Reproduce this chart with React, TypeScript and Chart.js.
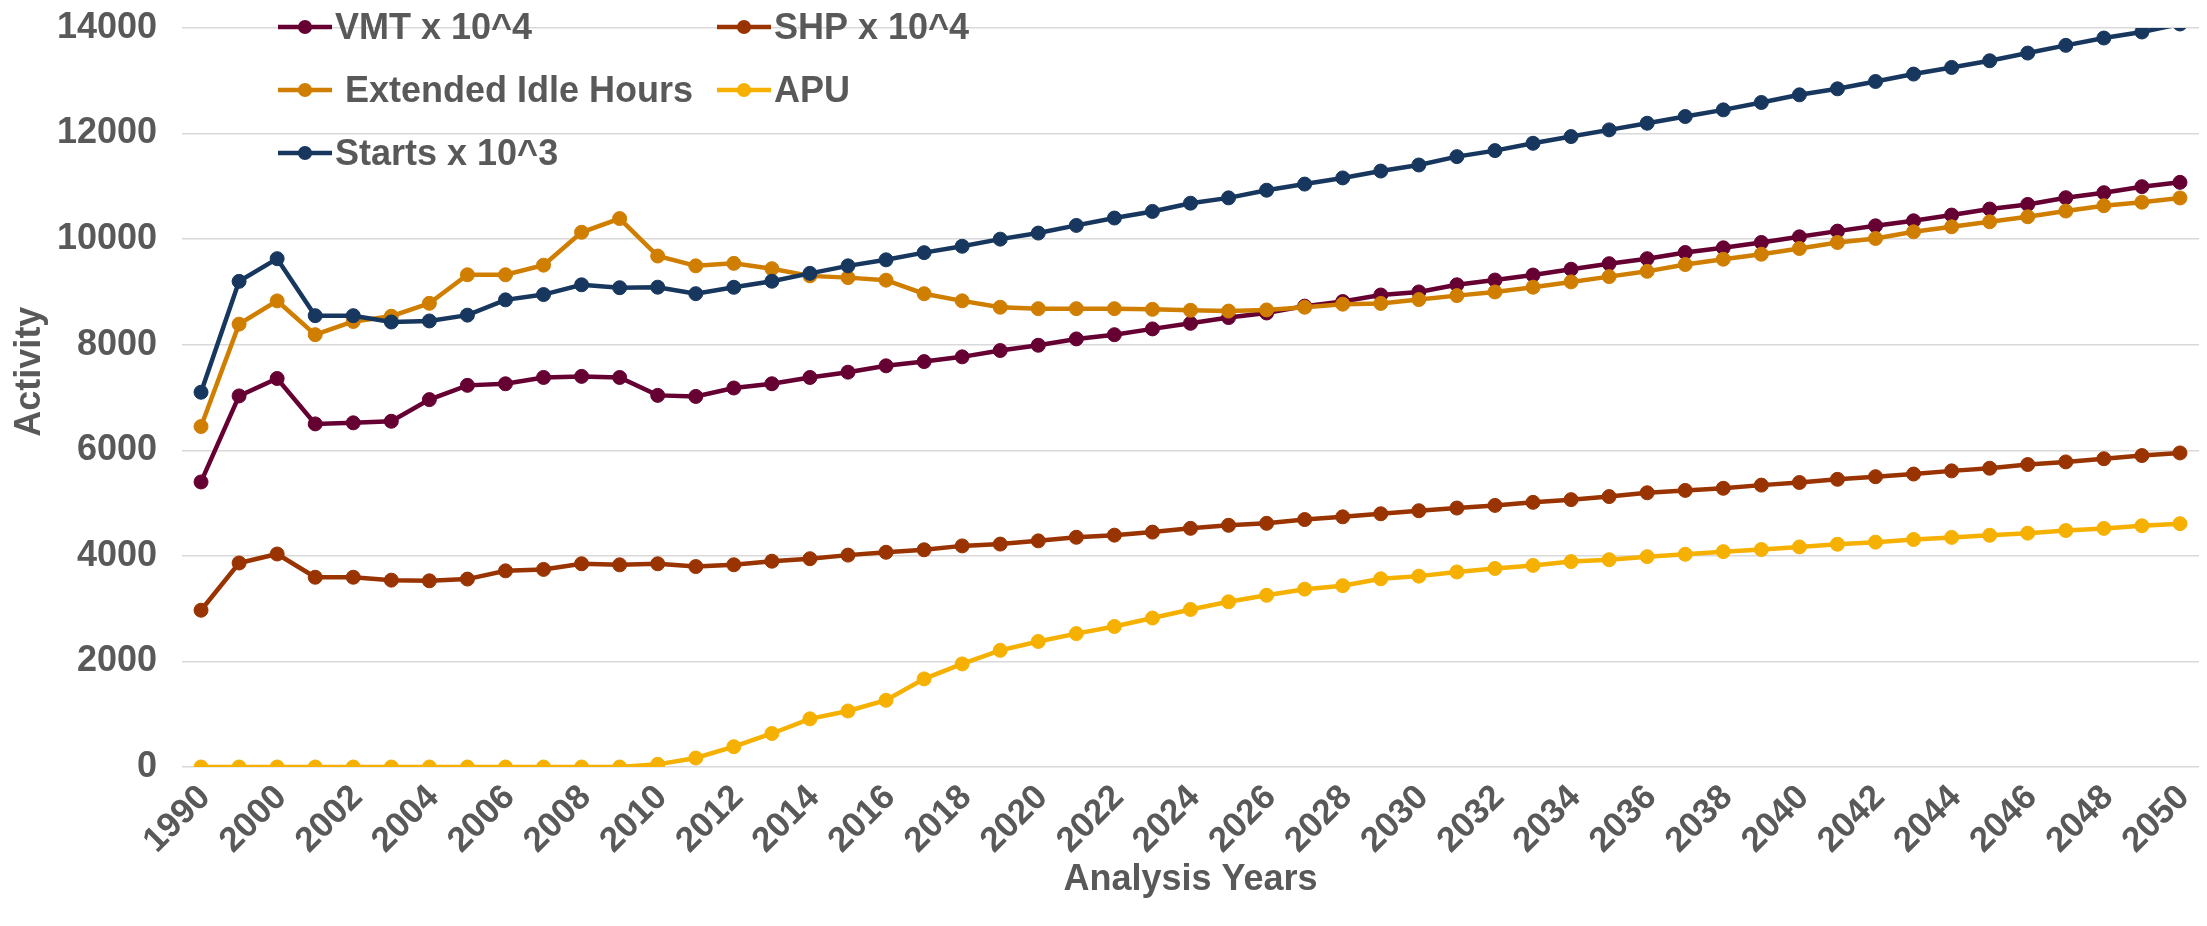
import React, { useEffect, useRef } from "react";
import { Chart, registerables } from "chart.js";

Chart.register(...registerables);

const categories = [
  "1990", "1999", "2000", "2001", "2002", "2003", "2004", "2005", "2006", "2007",
  "2008", "2009", "2010", "2011", "2012", "2013", "2014", "2015", "2016", "2017",
  "2018", "2019", "2020", "2021", "2022", "2023", "2024", "2025", "2026", "2027",
  "2028", "2029", "2030", "2031", "2032", "2033", "2034", "2035", "2036", "2037",
  "2038", "2039", "2040", "2041", "2042", "2043", "2044", "2045", "2046", "2047",
  "2048", "2049", "2050",
];

const vmt = [
  5400, 7030, 7360, 6500, 6520, 6550, 6960, 7230, 7260, 7380,
  7400, 7380, 7040, 7020, 7180, 7260, 7380, 7480, 7600, 7680,
  7770, 7890, 7990, 8110, 8190, 8300, 8405, 8514, 8601, 8731,
  8818, 8942, 9000, 9135, 9225, 9320, 9430, 9535, 9630, 9747,
  9836, 9937, 10044, 10152, 10253, 10348, 10456, 10570, 10658, 10785,
  10880, 10994, 11076,
];

const shp = [
  2970, 3865, 4035, 3595, 3595, 3540, 3527, 3560, 3716, 3743,
  3850, 3830, 3850, 3797, 3831, 3899, 3946, 4014, 4068, 4115,
  4189, 4223, 4284, 4352, 4392, 4450, 4521, 4579, 4616, 4688,
  4739, 4797, 4855, 4906, 4956, 5014, 5065, 5123, 5195, 5240,
  5280, 5340, 5390, 5450, 5500, 5550, 5610, 5660, 5730, 5780,
  5840, 5900, 5950,
];

const extendedIdle = [
  6450, 8390, 8830, 8190, 8440, 8540, 8784, 9325, 9325, 9507,
  10130, 10390, 9680, 9494, 9541, 9440, 9304, 9271, 9223, 8966,
  8831, 8710, 8683, 8683, 8683, 8670, 8652, 8637, 8659, 8710,
  8768, 8782, 8855, 8930, 9000, 9090, 9190, 9290, 9390, 9519,
  9620, 9715, 9823, 9937, 10013, 10139, 10234, 10329, 10424, 10532,
  10633, 10700, 10780,
];

const apu = [
  0, 0, 0, 0, 0, 0, 0, 0, 0, 0,
  0, 0, 50, 170, 385, 635, 912, 1061, 1264, 1669,
  1953, 2210, 2378, 2527, 2662, 2822, 2985, 3130, 3253, 3369,
  3435, 3565, 3616, 3695, 3761, 3819, 3891, 3927, 3985, 4030,
  4080, 4120, 4170, 4220, 4260, 4310, 4350, 4390, 4430, 4480,
  4520, 4570, 4610,
];

const starts = [
  7100, 9200, 9630, 8550, 8550, 8430, 8450, 8560, 8850, 8950,
  9135, 9080, 9090, 8967, 9088, 9203, 9352, 9494, 9608, 9744,
  9865, 10000, 10115, 10260, 10400, 10525, 10681, 10782, 10927, 11043,
  11160, 11290, 11405, 11563, 11677, 11816, 11943, 12070, 12196, 12323,
  12449, 12589, 12734, 12848, 12987, 13127, 13253, 13380, 13525, 13671,
  13810, 13924, 14076,
];

const seriesLabels = ["VMT x 10^4", "SHP x 10^4", " Extended Idle Hours", "APU", "Starts x 10^3"];
const seriesColors = ["#660033", "#993300", "#D07E00", "#F5B000", "#17375E"];
const seriesValues = [vmt, shp, extendedIdle, apu, starts];

const yTicks = [0, 2000, 4000, 6000, 8000, 10000, 12000, 14000];
const yTitle = "Activity";
const xTitle = "Analysis Years";

const FONT = '"Liberation Sans", Arial, sans-serif';
const TEXT = "#595959";

const legendPlugin = {
  id: "insideLegend",
  afterDraw(chart: any) {
    const { ctx, chartArea } = chart;
    const cols = [chartArea.left + 96, chartArea.left + 535];
    const rows = [chartArea.top - 1, chartArea.top + 62, chartArea.top + 125];
    ctx.save();
    ctx.font = `bold 36px ${FONT}`;
    ctx.textBaseline = "middle";
    ctx.textAlign = "left";
    chart.data.datasets.forEach((ds: any, i: number) => {
      const x = cols[i % 2];
      const y = rows[Math.floor(i / 2)];
      ctx.strokeStyle = ds.borderColor;
      ctx.lineWidth = 4.5;
      ctx.beginPath();
      ctx.moveTo(x, y);
      ctx.lineTo(x + 54, y);
      ctx.stroke();
      ctx.fillStyle = ds.borderColor;
      ctx.beginPath();
      ctx.arc(x + 27, y, 7, 0, Math.PI * 2);
      ctx.fill();
      ctx.fillStyle = TEXT;
      ctx.fillText(ds.label, x + 57, y + 2);
    });
    // y-axis title, placed as in the reference (slightly above centre)
    ctx.save();
    ctx.translate(30, chartArea.top + chartArea.height * 0.465);
    ctx.rotate(-Math.PI / 2);
    ctx.textAlign = "center";
    ctx.fillStyle = TEXT;
    ctx.fillText(yTitle, 0, 0);
    ctx.restore();
    ctx.restore();
  },
};

export default function App() {
  const canvasRef = useRef<HTMLCanvasElement | null>(null);

  useEffect(() => {
    document.body.style.margin = "0";
    const canvas = canvasRef.current;
    if (!canvas) return;
    const chart = new Chart(canvas, {
      type: "line",
      data: {
        labels: categories,
        datasets: seriesValues.map((vals, i) => ({
          label: seriesLabels[i],
          data: vals,
          borderColor: seriesColors[i],
          backgroundColor: seriesColors[i],
          pointBackgroundColor: seriesColors[i],
          pointBorderColor: seriesColors[i],
          borderWidth: 4.5,
          pointRadius: 7,
          pointBorderWidth: 1,
          pointHoverRadius: 7,
          tension: 0,
          fill: false,
          order: seriesValues.length - i,
        })),
      },
      options: {
        animation: false,
        responsive: true,
        maintainAspectRatio: false,
        layout: { padding: { top: 28, right: 4, bottom: 0, left: 0 } },
        plugins: {
          legend: { display: false },
          tooltip: { enabled: false },
        },
        scales: {
          x: {
            type: "category",
            offset: true,
            grid: { display: false, drawTicks: false },
            border: { display: false },
            ticks: {
              autoSkip: false,
              minRotation: 45,
              maxRotation: 45,
              padding: 10,
              labelOffset: 4,
              color: TEXT,
              font: { family: FONT, size: 35, weight: "bold" },
              callback: (_v: any, idx: number) => (idx % 2 === 0 ? categories[idx] : ""),
            },
            title: {
              display: true,
              text: xTitle,
              color: TEXT,
              font: { family: FONT, size: 36, weight: "bold" },
              padding: { top: 0, bottom: 24 },
            },
            afterFit: (s: any) => {
              s.height = 159;
              s.paddingLeft = 0;
              s.paddingRight = 0;
            },
          },
          y: {
            min: 0,
            max: 14000,
            grid: { color: "#D9D9D9", lineWidth: 1.5, drawTicks: false },
            border: { display: false },
            afterBuildTicks: (s: any) => {
              s.ticks = yTicks.map((v) => ({ value: v }));
            },
            ticks: {
              padding: 25,
              color: TEXT,
              font: { family: FONT, size: 36, weight: "bold" },
              callback: (v: any) => String(v),
            },
            title: { display: false, text: yTitle },
            afterFit: (s: any) => {
              s.width = 182;
              s.paddingTop = 0;
              s.paddingBottom = 0;
            },
          },
        },
      },
      plugins: [legendPlugin],
    });
    return () => chart.destroy();
  }, []);

  return (
    <div style={{ width: 2207, height: 926, position: "relative" }}>
      <canvas ref={canvasRef} />
    </div>
  );
}
